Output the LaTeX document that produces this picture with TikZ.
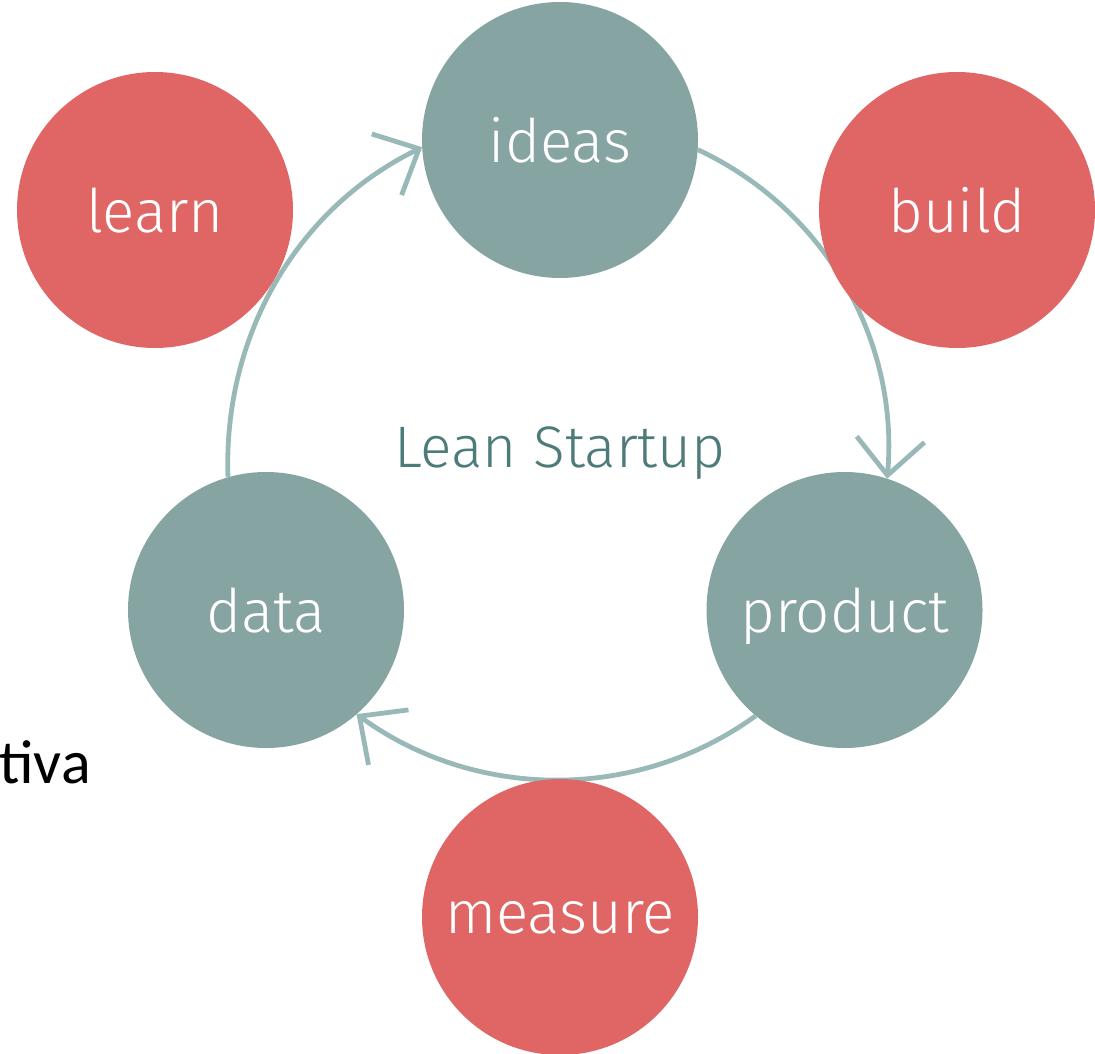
\documentclass[tikz,border=0pt]{standalone}
\usepackage{fontspec}
\usepackage{tikz}
\usetikzlibrary{arrows.meta}
\newfontfamily\techfont{Fira Sans Light}
\newfontfamily\slidefont{Carlito}
\definecolor{leanteal}{RGB}{134,164,162}
\definecolor{leanred}{RGB}{224,102,101}
\definecolor{leanline}{RGB}{152,185,183}
\definecolor{leandark}{RGB}{77,123,121}
\tikzstyle{stage}=[circle, inner sep=0pt, outer sep=0pt, minimum size=138pt, text=white, text depth=0pt, font=\techfont\fontsize{30}{30}\selectfont]
\tikzstyle{tealstage}=[stage, fill=leanteal]
\tikzstyle{redstage}=[stage, fill=leanred]
\tikzstyle{flow}=[draw=leanline, line width=2.4pt, looseness=0.94, -{Straight Barb[length=18pt, width=34pt]}]

\begin{document}
\begin{tikzpicture}[x=0.5pt, y=0.5pt]
    \useasboundingbox (0, 0) rectangle (1095, -1053);
    \node[tealstage] (ideas) at (560, -140) {ideas};
    \node[tealstage] (product) at (844.5, -610) {product};
    \node[tealstage] (data) at (266, -610) {data};
    \draw[flow] (ideas.-4) to[out=-25, in=85] (product.72);
    \draw[flow] (product.230) to[out=-144, in=-36] (data.-49);
    \draw[flow] (data.106) to[out=92, in=206] (ideas.183);
    \node[redstage] (learn) at (155, -210) {learn};
    \node[redstage] (build) at (957, -210) {build};
    \node[redstage] (measure) at (560, -917) {measure};
    \node[text=leandark, text depth=0pt, font=\techfont\fontsize{29.3}{29.3}\selectfont] (lean) at (560, -447) {Lean Startup};
    \node[anchor=base west, inner sep=0pt, font=\slidefont\fontsize{31}{31}\selectfont] (tiva) at (-1, -783) {tiva};
\end{tikzpicture}
\end{document}
